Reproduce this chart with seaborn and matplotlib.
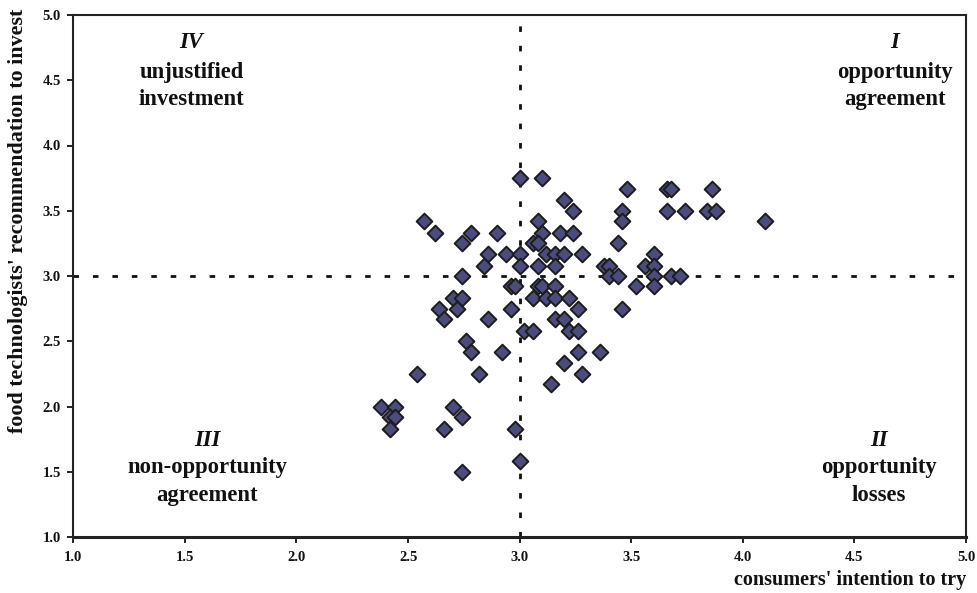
import matplotlib
matplotlib.use("Agg")
import matplotlib.pyplot as plt
import seaborn as sns
import pandas as pd

# consumers' intention to try (x) and food technologists' recommendation (y)
intention = [
    3.00, 3.10, 3.20, 3.24, 2.57, 2.62, 2.78, 2.74, 2.90, 3.08,
    3.10, 3.18, 3.24, 3.06, 3.08, 2.86, 2.94, 3.00, 3.12, 3.16,
    3.20, 3.28, 2.84, 3.00, 3.08, 3.16, 2.74, 3.38, 3.40, 3.40,
    2.96, 2.98, 3.08, 3.10, 3.16, 2.70, 2.74, 3.06, 3.12, 3.16,
    3.22, 2.64, 2.72, 2.96, 3.26, 2.66, 2.86, 3.16, 3.20, 3.02,
    3.06, 3.22, 3.26, 2.76, 2.78, 2.92, 3.26, 3.36, 3.20, 2.54,
    2.82, 3.28, 3.14, 2.38, 2.44, 2.70, 2.42, 2.44, 2.74, 2.42,
    2.66, 2.98, 3.00, 2.74, 3.48, 3.66, 3.68, 3.86, 3.46, 3.46,
    3.66, 3.74, 3.84, 3.88, 4.10, 3.44, 3.60, 3.56, 3.60, 3.44,
    3.60, 3.68, 3.72, 3.52, 3.60, 3.46,
]
recommendation = [
    3.75, 3.75, 3.58, 3.50, 3.42, 3.33, 3.33, 3.25, 3.33, 3.42,
    3.33, 3.33, 3.33, 3.25, 3.25, 3.17, 3.17, 3.17, 3.17, 3.17,
    3.17, 3.17, 3.08, 3.08, 3.08, 3.08, 3.00, 3.08, 3.08, 3.00,
    2.92, 2.92, 2.92, 2.92, 2.92, 2.83, 2.83, 2.83, 2.83, 2.83,
    2.83, 2.75, 2.75, 2.75, 2.75, 2.67, 2.67, 2.67, 2.67, 2.58,
    2.58, 2.58, 2.58, 2.50, 2.42, 2.42, 2.42, 2.42, 2.33, 2.25,
    2.25, 2.25, 2.17, 2.00, 2.00, 2.00, 1.92, 1.92, 1.92, 1.83,
    1.83, 1.83, 1.58, 1.50, 3.67, 3.67, 3.67, 3.67, 3.50, 3.42,
    3.50, 3.50, 3.50, 3.50, 3.42, 3.25, 3.17, 3.08, 3.08, 3.00,
    3.00, 3.00, 3.00, 2.92, 2.92, 2.75,
]
ticks = [1.0, 1.5, 2.0, 2.5, 3.0, 3.5, 4.0, 4.5, 5.0]
tick_labels = ["1.0", "1.5", "2.0", "2.5", "3.0", "3.5", "4.0", "4.5", "5.0"]
quadrants = [
    ("IV", "unjustified", "investment"),
    ("I", "opportunity", "agreement"),
    ("III", "non-opportunity", "agreement"),
    ("II", "opportunity", "losses"),
]
x_label = "consumers' intention to try"
y_label = "food technologists' recommendation to invest"

df = pd.DataFrame({"intention": intention, "recommendation": recommendation})

sns.set_theme(style="white")
plt.rcParams["font.family"] = ["Liberation Serif", "DejaVu Serif"]

fig = plt.figure(figsize=(9.77, 5.93), dpi=100)
W, H = 977, 593
ax = fig.add_axes([73.3 / W, 1 - 537 / H, (966 - 73.3) / W, (537 - 15) / H])

sns.scatterplot(data=df, x="intention", y="recommendation", ax=ax,
                marker="D", s=64, color="#4b4b7d", edgecolor="#1c1c1c",
                linewidth=1.4, zorder=3, legend=False)

ax.axvline(3.0, color="#111111", lw=2.0, dashes=(2.0, 5.0), zorder=2)
ax.axhline(3.0, color="#111111", lw=2.0, dashes=(2.0, 5.0), zorder=2)

ax.set_xlim(1.0, 5.0)
ax.set_ylim(1.0, 5.0)
ax.set_xticks(ticks)
ax.set_yticks(ticks)
ax.set_xticklabels(tick_labels, fontweight="bold", fontsize=10.5)
ax.set_yticklabels(tick_labels, fontweight="bold", fontsize=10.5)
ax.tick_params(axis="both", direction="out", length=4, width=1.4,
               color="#222222", pad=5, labelcolor="#111111")
ax.tick_params(axis="x", pad=6)
ax.tick_params(left=True, bottom=True)
for sp in ax.spines.values():
    sp.set_visible(True)
    sp.set_color("#222222")
    sp.set_linewidth(1.5)
ax.spines["bottom"].set_linewidth(2.2)
ax.set_xlabel("")
ax.set_ylabel("")

# quadrant annotations
pos = {"IV": (1.53, [4.79, 4.56, 4.35]),
       "I": (4.68, [4.79, 4.56, 4.35]),
       "III": (1.60, [1.74, 1.53, 1.32]),
       "II": (4.61, [1.74, 1.53, 1.32])}
for numeral, l1, l2 in quadrants:
    xq, ys = pos[numeral]
    ax.text(xq, ys[0], numeral, ha="center", va="center", fontsize=16.3,
            fontweight="bold", fontstyle="italic", color="#111111")
    ax.text(xq, ys[1], l1, ha="center", va="center", fontsize=16.3,
            fontweight="bold", color="#111111")
    ax.text(xq, ys[2], l2, ha="center", va="center", fontsize=16.3,
            fontweight="bold", color="#111111")

fig.text(966 / W, 1 - 580 / H, x_label, ha="right", va="center",
         fontsize=14.5, fontweight="bold", color="#111111")
fig.text(18 / W, 1 - 9 / H, y_label, ha="center", va="top", rotation=90,
         fontsize=15.8, fontweight="bold", color="#111111")

fig.savefig("out.png", dpi=100)
